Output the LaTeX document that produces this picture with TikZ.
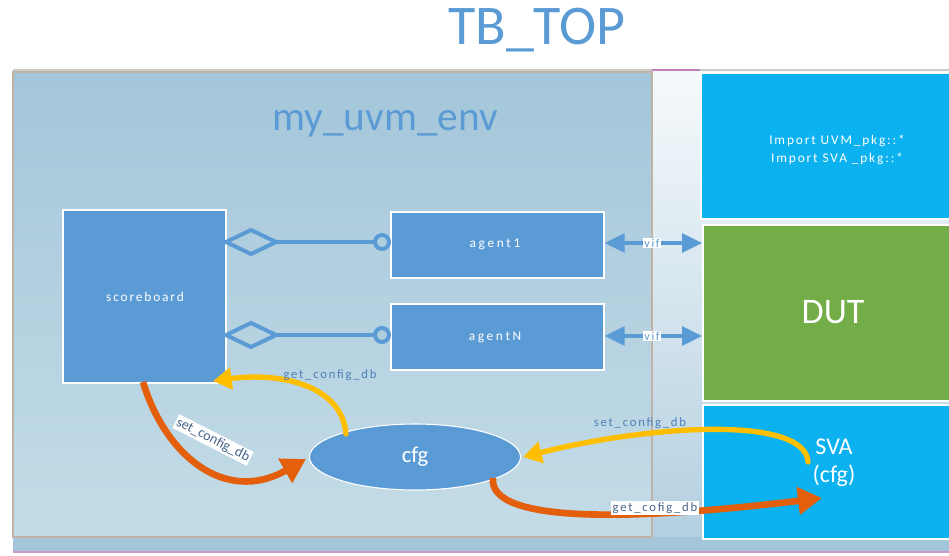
\documentclass[tikz,border=0pt]{standalone}
\usepackage{fontspec}
\setmainfont{Carlito}
\newfontfamily\spacedfont[LetterSpace=14]{Carlito}
\newfontfamily\widefont[LetterSpace=20]{Carlito}
\usetikzlibrary{arrows.meta,shapes.geometric}
\definecolor{tblue}{HTML}{5B9BD5}
\definecolor{cyanb}{HTML}{0BB2EF}
\definecolor{dutg}{HTML}{72AD47}
\definecolor{orng}{HTML}{E35F0B}
\definecolor{yell}{HTML}{FFBF00}
\definecolor{envtop}{HTML}{A4C6DA}
\definecolor{envbot}{HTML}{C4DCE7}
\definecolor{lbl}{HTML}{4F7FB8}
\definecolor{lbldark}{HTML}{46648C}
\tikzset{
  blk/.style={draw=white, line width=1.2pt, fill=tblue, text=white},
  side/.style={draw=white, line width=1.2pt, text=white},
  conn/.style={draw=tblue, line width=3pt},
  vifarrow/.style={draw=tblue, line width=2.8pt, {Triangle[length=15pt,width=14pt]}-{Triangle[length=15pt,width=14pt]}},
  viflbl/.style={fill=white, inner sep=1pt, text=tblue, font=\spacedfont\fontsize{9}{10}\selectfont},
  orarrow/.style={draw=orng, line width=5pt, -{Triangle[length=18pt,width=20pt]}},
  yarrow/.style={draw=yell, line width=4pt, line cap=round, -{Triangle[length=14pt,width=16pt]}},
  flowlbl/.style={text=lbl, font=\spacedfont\fontsize{9.5}{10}\selectfont, inner sep=1pt},
  smalltxt/.style={text=white, font=\spacedfont\fontsize{10}{11}\selectfont},
}
\begin{document}
\begin{tikzpicture}[x=0.75pt,y=-0.75pt]
\useasboundingbox (0,0) rectangle (949,556);
\fill[white] (0,0) rectangle (949,556);
% title
\node[text=tblue, font=\fontsize{42}{46}\selectfont] (title) at (537,30) {TB\_TOP};
% outer TB_TOP rectangle
\shade[top color=white!90!envtop, bottom color=envtop!85!white] (13,70) rectangle (951,552);
\draw[draw=gray!40, line width=0.8pt] (13,70) -- (951,70);
\draw[draw=violet!50, line width=0.8pt] (652,70) -- (700,70);
\fill[envtop] (13,537) rectangle (951,552);
\draw[draw=violet!40, line width=1pt] (13,552) -- (951,552);
% env
\shade[top color=envtop, bottom color=envbot] (13,72) rectangle (652,537);
\draw[draw=brown!35!gray!60!white, line width=1.3pt] (13,537) -- (13,72) -- (652,72) -- (652,537) -- cycle;
\node[text=tblue, font=\fontsize{31}{34}\selectfont] (envt) at (385,124) {my\_uvm\_env};
% right blocks
\node[side, fill=cyanb, minimum width=250*0.75pt, minimum height=146*0.75pt, anchor=north west, inner sep=0pt] (imp) at (700,72) {};
\node[text=white, align=center, font=\spacedfont\fontsize{10}{13}\selectfont] (impt) at (837,150) {Import UVM\_pkg::*\\Import SVA \_pkg::*};
\node[side, fill=dutg, minimum width=250*0.75pt, minimum height=176*0.75pt, anchor=north west, inner sep=0pt] (dut) at (702,224) {};
\node[text=white, font=\fontsize{27}{30}\selectfont] (dutt) at (833,312) {DUT};
\node[side, fill=cyanb, minimum width=250*0.75pt, minimum height=134*0.75pt, anchor=north west, inner sep=0pt] (sva) at (702,404) {};
\node[text=white, align=center, font=\fontsize{18}{21}\selectfont] (svat) at (834,463) {SVA\\(cfg)};
% scoreboard and agents
\node[blk, minimum width=163*0.75pt, minimum height=173*0.75pt, anchor=north west, inner sep=0pt] (sb) at (62,209) {};
\node[smalltxt] (sbt) at (145,297) {scoreboard};
\node[blk, minimum width=213*0.75pt, minimum height=66*0.75pt, anchor=north west, inner sep=0pt] (ag1) at (390,211) {};
\node[text=white, font=\widefont\fontsize{10}{11}\selectfont] (ag1t) at (495,244) {agent1};
\node[blk, minimum width=213*0.75pt, minimum height=66*0.75pt, anchor=north west, inner sep=0pt] (agN) at (390,303) {};
\node[text=white, font=\widefont\fontsize{10}{11}\selectfont] (agNt) at (495,337) {agentN};
% aggregation connectors
\foreach \yy in {242, 335}{
  \draw[conn, line join=miter] (226,\yy) -- (251,\yy-12) -- (276,\yy) -- (251,\yy+12) -- cycle;
  \draw[conn] (276,\yy) -- (374,\yy);
  \draw[conn, fill=envtop!70!envbot] (382,\yy) circle (7);
}
% vif arrows
\draw[vifarrow] (ag1.east |- 0,243) -- (dut.west |- 0,243);
\node[viflbl] (v1) at (652,243) {vif};
\draw[vifarrow] (agN.east |- 0,336) -- (dut.west |- 0,336);
\node[viflbl] (v2) at (652,336) {vif};
% cfg
\node[ellipse, draw=white, line width=0.8pt, fill=tblue, text=white, minimum width=211*0.75pt, minimum height=66*0.75pt,
      font=\fontsize{17}{19}\selectfont] (cfg) at (415,457) {cfg};
% flows
\draw[orarrow] (143,382) .. controls (165,455) and (225,505) .. (306,459);
\node[fill=white, inner sep=1.2pt, rotate=-27, text=lbldark, font=\fontsize{10.5}{11}\selectfont] (l1) at (213,440) {set\_config\_db};
\draw[yarrow] (346,434) .. controls (342,385) and (280,372) .. (213,381);
\node[flowlbl] (l2) at (330,375) {get\_config\_db};
\draw[yarrow] (808,462) .. controls (805,415) and (650,425) .. (523,457);
\node[flowlbl] (l3) at (640,423) {set\_config\_db};
\draw[orarrow] (493,478) .. controls (488,525) and (640,520) .. (822,498);
\node[flowlbl, fill=white, text=lbldark] (l4) at (655,508) {get\_cofig\_db};
\end{tikzpicture}
\end{document}
